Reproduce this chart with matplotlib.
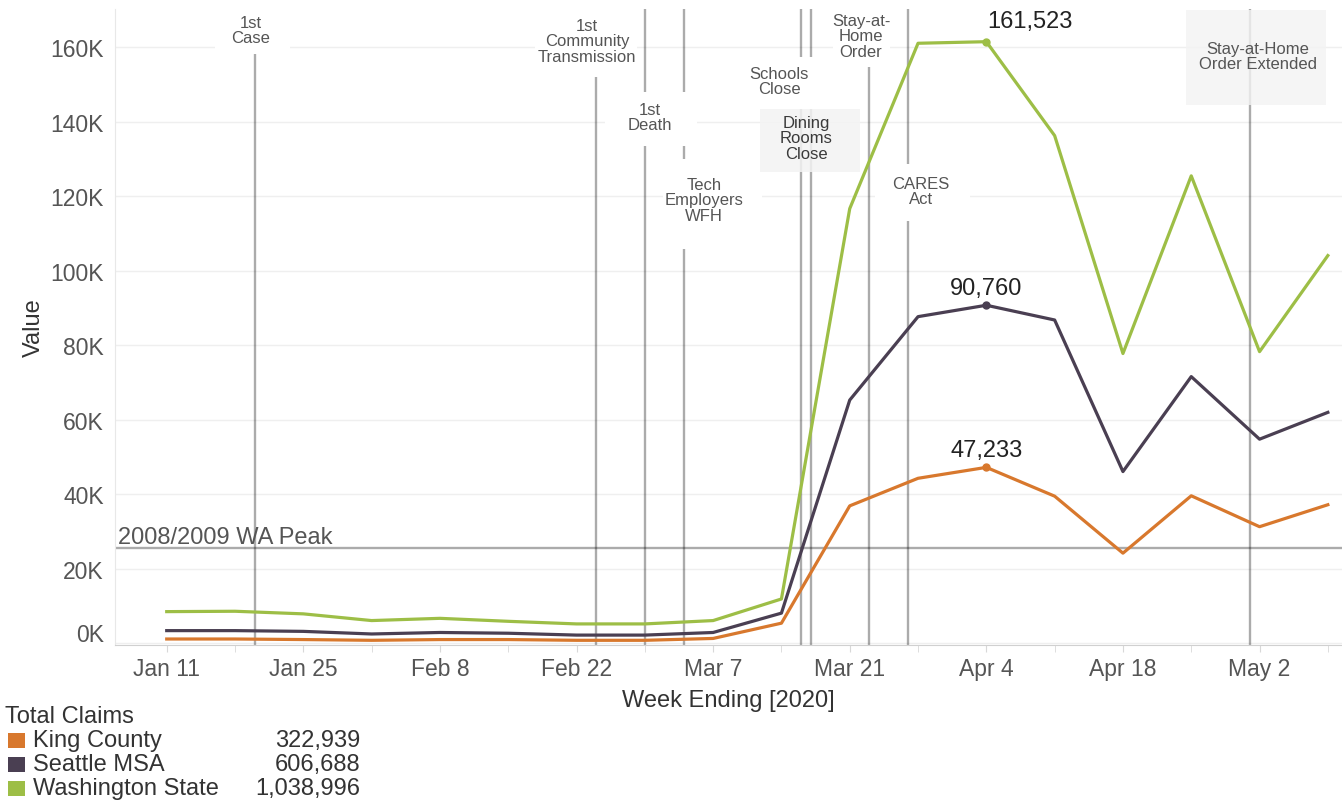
import datetime as dt
import matplotlib
matplotlib.use("Agg")
import matplotlib.pyplot as plt
import matplotlib.dates as mdates
from matplotlib.patches import Rectangle
from matplotlib.ticker import FixedLocator, FuncFormatter
import matplotlib.transforms as mtransforms

plt.rcParams['font.family'] = ['Liberation Sans', 'DejaVu Sans']

# ---------------- data ----------------
weeks = [dt.date(2020, 1, 11) + dt.timedelta(days=7 * i) for i in range(18)]
king_county = [1150, 1150, 1000, 800, 1000, 1000, 800, 800, 1300, 5400,
               36900, 44300, 47233, 39500, 24200, 39600, 31300, 37200]
seattle_msa = [3400, 3400, 3200, 2500, 2900, 2700, 2200, 2200, 2900, 8100,
               65300, 87700, 90760, 86800, 46100, 71600, 54800, 62000]
washington = [8500, 8600, 7900, 6100, 6700, 5900, 5200, 5200, 6100, 11900,
              116700, 161100, 161523, 136300, 77800, 125500, 78300, 104100]
series_names = ["King County", "Seattle MSA", "Washington State"]
totals = ["322,939", "606,688", "1,038,996"]
peak_2008 = 25700
events = [
    ("1st\nCase", dt.date(2020, 1, 20)),
    ("1st\nCommunity\nTransmission", dt.date(2020, 2, 24)),
    ("1st\nDeath", dt.date(2020, 2, 29)),
    ("Tech\nEmployers\nWFH", dt.date(2020, 3, 4)),
    ("Schools\nClose", dt.date(2020, 3, 16)),
    ("Dining\nRooms\nClose", dt.date(2020, 3, 17)),
    ("Stay-at-\nHome\nOrder", dt.date(2020, 3, 23)),
    ("CARES\nAct", dt.date(2020, 3, 27)),
    ("Stay-at-Home\nOrder Extended", dt.date(2020, 5, 1)),
]
tick_dates = weeks[::2]

# ---------------- style / layout ----------------
colors = ["#D8782D", "#4A3F52", "#9DBE46"]
W, H = 1342, 803
fig = plt.figure(figsize=(W / 100, H / 100), dpi=100)
ax = fig.add_axes([115 / W, (H - 646) / H, (W - 115) / W, (646 - 10) / H])

x0 = mdates.date2num(weeks[0]) - 5.3
x1 = mdates.date2num(weeks[-1]) + 1.45
ax.set_xlim(x0, x1)
ax.set_ylim(-460, 170300)

for s in ["top", "right"]:
    ax.spines[s].set_visible(False)
ax.spines["left"].set_color("#e8e8e8")
ax.spines["bottom"].set_color("#d0d0d0")

# y axis
ax.yaxis.set_major_locator(FixedLocator(range(0, 160001, 20000)))
ax.yaxis.set_major_formatter(FuncFormatter(lambda v, p: f"{int(round(v / 1000))}K"))
ax.tick_params(axis="y", length=0, pad=8, labelsize=16.5, labelcolor="#555555")
ax.grid(axis="y", color="#efefef", lw=1, zorder=0)
ax.set_axisbelow(True)

# x axis
ax.xaxis.set_major_locator(FixedLocator([mdates.date2num(d) for d in tick_dates]))
ax.xaxis.set_minor_locator(FixedLocator([mdates.date2num(d) for d in weeks]))
ax.xaxis.set_major_formatter(FuncFormatter(
    lambda v, p: mdates.num2date(v).strftime("%b ") + str(mdates.num2date(v).day)))
ax.tick_params(axis="x", which="both", length=5, color="#d8d8d8", pad=4,
               labelsize=16.5, labelcolor="#555555")

ax.set_xlabel("Week Ending [2020]", fontsize=17, color="#333333", labelpad=6)
ax.set_ylabel("Value", fontsize=17, color="#333333", labelpad=4)

# shift 0K label up (as in Tableau)
fig.canvas.draw()
lbl0 = ax.get_yticklabels()[0]
lbl0.set_transform(lbl0.get_transform() +
                   mtransforms.ScaledTranslation(0, 11 / 100, fig.dpi_scale_trans))

# reference lines
for _, d in events:
    ax.axvline(mdates.date2num(d), color="black", alpha=0.33, lw=1.7, zorder=1)
ax.axhline(peak_2008, color="black", alpha=0.33, lw=1.7, zorder=1)
ax.text(0.0025, peak_2008, "2008/2009 WA Peak", transform=ax.get_yaxis_transform(),
        ha="left", va="bottom", fontsize=17, color="#555555", zorder=3)

# annotation boxes (layout in image pixels)
inv = ax.transData.inverted()


def px2data(xp, yp):
    return inv.transform((xp, H - yp))


ann_layout = [
    # center x, center y, box x0, x1, y0, y1, face, alpha, color
    (251, 31, 215, 290, 9, 55, "white", 1.0, "#555555"),
    (587, 42, 535, 637, 9, 78, "white", 1.0, "#555555"),
    (650, 118, 605, 697, 93, 147, "white", 1.0, "#555555"),
    (704, 201, 663, 762, 160, 250, "white", 1.0, "#555555"),
    (779, 82, 745, 815, 58, 110, "white", 1.0, "#555555"),
    (806, 139, 760, 860, 110, 173, "#f3f3f3", 0.85, "#3a3a3a"),
    (861, 37, 833, 890, 9, 68, "white", 1.0, "#555555"),
    (921, 192, 875, 970, 165, 222, "white", 1.0, "#555555"),
    (1258, 57, 1186, 1326, 11, 106, "#f3f3f3", 0.8, "#555555"),
]
for (txt, _), (cx, cy, bx0, bx1, by0, by1, fc, al, tc) in zip(events, ann_layout):
    (dx0, dy1) = px2data(bx0, by1)
    (dx1, dy0) = px2data(bx1, by0)
    ax.add_patch(Rectangle((dx0, dy1), dx1 - dx0, dy0 - dy1, facecolor=fc,
                           edgecolor="none", alpha=al, zorder=2))
    tx, ty = px2data(cx, cy)
    ax.text(tx, ty, txt, ha="center", va="center", fontsize=12, color=tc,
            linespacing=1.07, zorder=3)

# data lines
xs = mdates.date2num(weeks)
peak_i = 12
for vals, c in zip([king_county, seattle_msa, washington], colors):
    ax.plot(xs, vals, color=c, lw=2.3, zorder=4, solid_joinstyle="round")
    ax.plot(xs[peak_i], vals[peak_i], "o", color=c, ms=5, zorder=5)

ax.annotate(f"{washington[peak_i]:,}", (xs[peak_i], washington[peak_i]),
            xytext=(1, 10), textcoords="offset pixels", ha="left", va="bottom",
            fontsize=17, color="#222222", zorder=6)
for vals in [seattle_msa, king_county]:
    ax.annotate(f"{vals[peak_i]:,}", (xs[peak_i], vals[peak_i]),
                xytext=(0, 6), textcoords="offset pixels", ha="center", va="bottom",
                fontsize=17, color="#222222", zorder=6)

# legend (manual, Tableau style)
fig.text(5 / W, 1 - 717 / H, "Total Claims", ha="left", va="center",
         fontsize=17, color="#333333")
for i, (name, tot, c) in enumerate(zip(series_names, totals, colors)):
    yc = 741 + 24 * i
    fig.patches.append(Rectangle((8 / W, 1 - (yc + 7.5) / H), 17 / W, 15 / H,
                                 transform=fig.transFigure, facecolor=c,
                                 edgecolor="none"))
    fig.text(33 / W, 1 - yc / H, name, ha="left", va="center",
             fontsize=17, color="#333333")
    fig.text(360 / W, 1 - yc / H, tot, ha="right", va="center",
             fontsize=17, color="#333333")

fig.savefig("out.png", dpi=100)
